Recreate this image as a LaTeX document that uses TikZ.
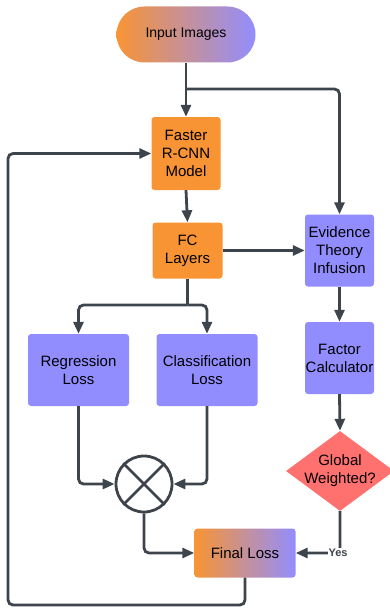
\documentclass[tikz,border=0pt]{standalone}
\usepackage{fontspec}
\setmainfont{Liberation Sans}
\usetikzlibrary{shapes.geometric, arrows.meta, positioning, calc}

\definecolor{boxorange}{RGB}{248,148,52}
\definecolor{boxpurple}{RGB}{146,141,255}
\definecolor{decred}{RGB}{255,113,110}
\definecolor{linegray}{RGB}{62,68,76}

\tikzstyle{arrow} = [line width=2.8pt, linegray, rounded corners=5pt, -{Triangle[length=12pt,width=10pt]}]
\tikzstyle{line} = [line width=2.8pt, linegray, rounded corners=5pt]
\tikzstyle{orangebox} = [fill=boxorange, rounded corners=3pt, align=center, font=\fontsize{15}{18}\selectfont, inner sep=0pt]
\tikzstyle{purplebox} = [fill=boxpurple, rounded corners=3pt, align=center, font=\fontsize{15}{18}\selectfont, inner sep=0pt]
\tikzstyle{gradbox} = [left color=boxorange, right color=boxpurple, align=center, inner sep=0pt]
\tikzstyle{decision} = [diamond, fill=decred, align=center, font=\fontsize{15}{18}\selectfont, inner sep=-4pt, aspect=1.35]

\begin{document}
\begin{tikzpicture}[x=1pt, y=-1pt]
\useasboundingbox (0,0) rectangle (390,610);

% Start
\node[gradbox, rounded corners=28pt, minimum width=139pt, minimum height=56pt, font=\fontsize{14}{17}\selectfont] (input) at (186,34.5) {Input Images};

% Detection branch
\node[orangebox, minimum width=69pt, minimum height=73pt] (faster) at (186,153.5) {Faster\\R-CNN\\Model};
\node[orangebox, minimum width=70pt, minimum height=56pt] (fc) at (187.5,250.5) {FC\\Layers};
\node[purplebox, minimum width=101pt, minimum height=72pt] (reg) at (78.5,370) {Regression\\Loss};
\node[purplebox, minimum width=101pt, minimum height=72pt] (cls) at (207,370) {Classification\\Loss};
\node[circle, draw=linegray, line width=2.8pt, minimum size=56pt, inner sep=0pt] (mult) at (144,484) {};
\draw[line] (mult.45) -- (mult.225);
\draw[line] (mult.135) -- (mult.315);

% Evidence branch
\node[purplebox, minimum width=69pt, minimum height=72pt] (evid) at (339.5,250.5) {Evidence\\Theory\\Infusion};
\node[purplebox, minimum width=69pt, minimum height=72pt] (factor) at (339.5,358) {Factor\\Calculator};
\node[decision, minimum width=108pt, minimum height=80pt] (glob) at (340,471) {Global\\Weighted?};

% End
\node[gradbox, rounded corners=3pt, minimum width=101pt, minimum height=49pt, font=\fontsize{15}{18}\selectfont] (final) at (245,553) {Final Loss};

% Connectors
\coordinate (split1) at (186,89);
\coordinate (split2) at (187.5,305);
\coordinate (yescorner) at (340,553);
\coordinate (loopbl) at (8,605);

\draw[arrow] (input.south) -- (faster.north);
\draw[arrow] (split1) -| (evid.north);
\draw[arrow] (faster.south) -- (fc.north);
\draw[arrow] (fc.east) -- (evid.west);
\draw[line] (fc.south) -- (split2);
\draw[arrow] (split2) -| (reg.north);
\draw[arrow] (split2) -| (cls.north);
\draw[arrow] (reg.south) |- (mult.west);
\draw[arrow] (cls.south) |- (mult.east);
\draw[arrow] (mult.south) |- (final.west);
\draw[arrow] (evid.south) -- (factor.north);
\draw[arrow] (factor.south) -- (glob.north);
\draw[arrow] (glob.south) -- (yescorner) -- (final.east);
\node[fill=white, inner sep=1pt, font=\bfseries\fontsize{11}{13}\selectfont, text=linegray] (yes) at (338,553) {Yes};

% Feedback loop
\draw[arrow] (final.south) |- (loopbl) |- (faster.west);

\end{tikzpicture}
\end{document}
